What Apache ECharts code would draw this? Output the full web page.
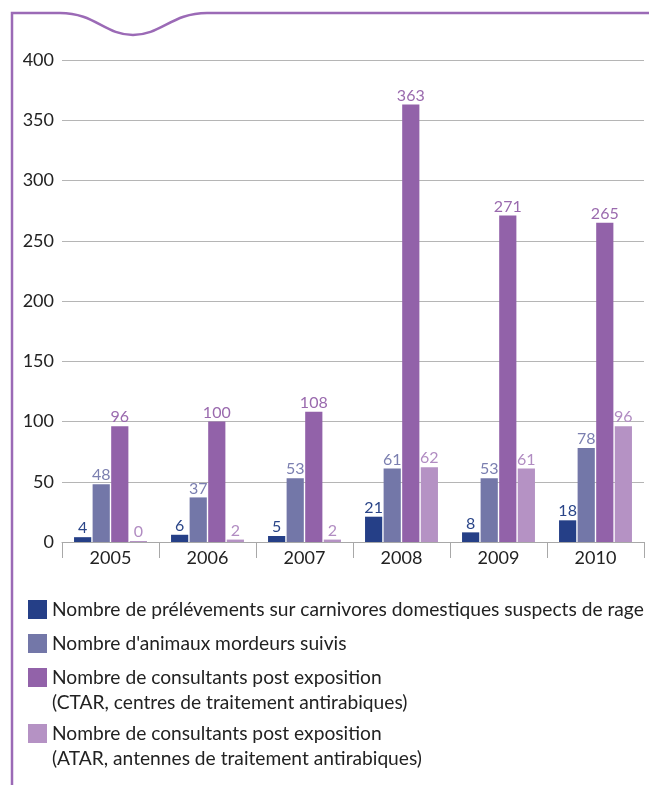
<!DOCTYPE html>
<html>
<head>
<meta charset="utf-8">
<script src="https://cdn.jsdelivr.net/npm/echarts@6/dist/echarts.min.js"></script>
<style>
  html, body { margin: 0; padding: 0; background: #fff; }
  #chart { width: 649px; height: 785px; }
</style>
</head>
<body>
<div id="chart"></div>
<script>
var years = ['2005', '2006', '2007', '2008', '2009', '2010'];
var seriesNames = [
    'Nombre de prélévements sur carnivores domestiques suspects de rage',
    "Nombre d'animaux mordeurs suivis",
    'Nombre de consultants post exposition\n(CTAR, centres de traitement antirabiques)',
    'Nombre de consultants post exposition\n(ATAR, antennes de traitement antirabiques)'
];
var prelevements = [4, 6, 5, 21, 8, 18];
var mordeurs = [48, 37, 53, 61, 53, 78];
var ctar = [96, 100, 108, 363, 271, 265];
var atar = [0, 2, 2, 62, 61, 96];
var yTicks = [0, 50, 100, 150, 200, 250, 300, 350, 400];

var barColors = ['#253f87', '#7377a8', '#9262a9', '#b592c4'];
var labelColors = ['#2a4588', '#7b7fb0', '#9a6aae', '#b18cc2'];
var font = 'Lato';
var frameColor = '#9b6ab6';

var chart = echarts.init(document.getElementById('chart'));

function makeSeries(i, data) {
    return {
        name: seriesNames[i],
        type: 'bar',
        data: data,
        barWidth: 17.2,
        barGap: '8%',
        barMinHeight: 1,
        itemStyle: {color: barColors[i]},
        label: {
            show: true,
            position: 'top',
            distance: 1,
            color: labelColors[i],
            fontFamily: font,
            fontSize: 16
        }
    };
}

function makeLegend(i, top, twoLines) {
    return {
        data: [seriesNames[i]],
        left: 28,
        top: top,
        padding: 0,
        orient: 'vertical',
        icon: 'rect',
        itemWidth: 19,
        itemHeight: 19,
        selectedMode: false,
        // an empty first line keeps the square level with the first text line
        formatter: function (name) {
            return twoLines ? ' \n' + name : name;
        },
        textStyle: {
            fontFamily: font,
            fontSize: 19.2,
            lineHeight: 25,
            color: '#222'
        }
    };
}

// purple frame with the little wave on top
var frameStyle = {fill: null, stroke: frameColor, lineWidth: 2.5};

var option = {
    animation: false,
    backgroundColor: '#fff',
    grid: {left: 62, right: 5, top: 60, bottom: 243},
    xAxis: {
        type: 'category',
        data: years,
        axisLine: {lineStyle: {color: '#a8a8a8', width: 1}},
        axisTick: {show: true, length: 16, lineStyle: {color: '#a8a8a8'}},
        axisLabel: {color: '#222', fontFamily: font, fontSize: 18, margin: 7}
    },
    yAxis: {
        type: 'value',
        min: yTicks[0],
        max: yTicks[yTicks.length - 1],
        interval: 50,
        axisLine: {show: false},
        axisTick: {show: false},
        axisLabel: {color: '#222', fontFamily: font, fontSize: 18, margin: 8},
        splitLine: {lineStyle: {color: '#b5b5b5', width: 1}}
    },
    legend: [
        makeLegend(0, 597, false),
        makeLegend(1, 631, false),
        makeLegend(2, 640, true),
        makeLegend(3, 696, true)
    ],
    graphic: [
        {type: 'polyline', shape: {points: [[12, 785], [12, 13], [60, 13]]}, style: frameStyle},
        {type: 'bezierCurve', shape: {x1: 60, y1: 13, cpx1: 95, cpy1: 13, cpx2: 105, cpy2: 35, x2: 133, y2: 35}, style: frameStyle},
        {type: 'bezierCurve', shape: {x1: 133, y1: 35, cpx1: 161, cpy1: 35, cpx2: 172, cpy2: 13, x2: 207, y2: 13}, style: frameStyle},
        {type: 'line', shape: {x1: 207, y1: 13, x2: 649, y2: 13}, style: frameStyle}
    ],
    series: [
        makeSeries(0, prelevements),
        makeSeries(1, mordeurs),
        makeSeries(2, ctar),
        makeSeries(3, atar)
    ]
};
chart.setOption(option);
</script>
</body>
</html>
